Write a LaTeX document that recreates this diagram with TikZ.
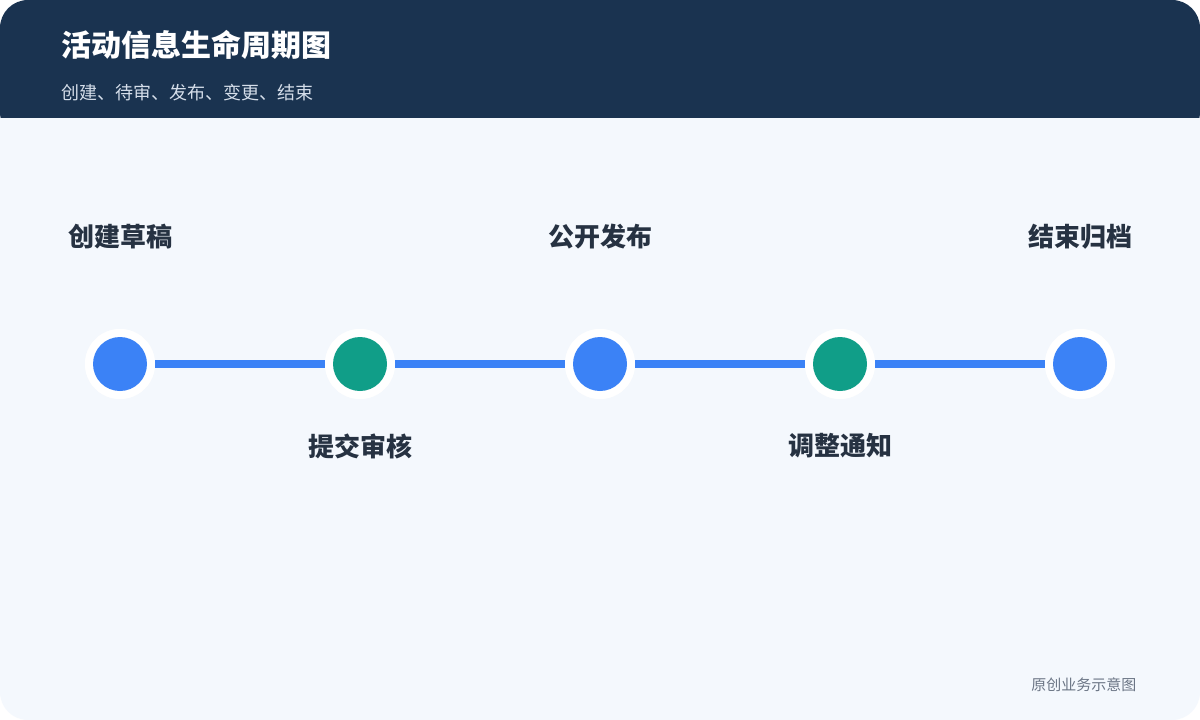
\documentclass[tikz,border=0pt]{standalone}
\usepackage{fontspec}
\setmainfont{Noto Sans CJK SC}
\newfontfamily\cjkb{Noto Sans CJK SC}[BoldFont={Noto Sans CJK SC Bold}]
\definecolor{navy}{HTML}{1A3350}
\definecolor{bodybg}{HTML}{F4F8FD}
\definecolor{blu}{HTML}{3B82F6}
\definecolor{grn}{HTML}{109E88}
\definecolor{txt}{HTML}{263242}
\definecolor{sub}{HTML}{D5DEEA}
\definecolor{foot}{HTML}{6B7585}
\begin{document}
\begin{tikzpicture}[x=1pt,y=-1pt,
  ring/.style={circle,fill=white,minimum size=70pt,inner sep=0pt},
  dotb/.style={circle,fill=blu,minimum size=54pt,inner sep=0pt},
  dotg/.style={circle,fill=grn,minimum size=54pt,inner sep=0pt},
  lab/.style={font=\fontsize{26}{30}\selectfont\bfseries,text=txt},
  conn/.style={blu,line width=8pt}]
\useasboundingbox (0,0) rectangle (1200,720);
\fill[white] (0,0) rectangle (1200,720);
\fill[bodybg,rounded corners=28pt] (0,0) rectangle (1200,720);
\fill[navy,rounded corners=28pt] (0,0) rectangle (1200,140);
\fill[bodybg] (0,118) rectangle (1200,160);
\node[anchor=west,text=white,font=\fontsize{30}{34}\selectfont\bfseries] (title) at (58,45) {活动信息生命周期图};
\node[anchor=west,text=sub,font=\fontsize{18}{22}\selectfont] (subt) at (58,93) {创建、待审、发布、变更、结束};
\foreach \i/\x in {1/120,2/360,3/600,4/840,5/1080}{\node[ring] (r\i) at (\x,364) {};}
\draw[conn] (r1) -- (r2); \draw[conn] (r2) -- (r3); \draw[conn] (r3) -- (r4); \draw[conn] (r4) -- (r5);
\foreach \i in {1,...,5}{\node[ring] at (r\i) {};}
\node[dotb] (d1) at (r1) {};
\node[dotg] (d2) at (r2) {};
\node[dotb] (d3) at (r3) {};
\node[dotg] (d4) at (r4) {};
\node[dotb] (d5) at (r5) {};
\node[lab] (l1) at (120,237) {创建草稿};
\node[lab] (l2) at (360,446) {提交审核};
\node[lab] (l3) at (600,237) {公开发布};
\node[lab] (l4) at (840,446) {调整通知};
\node[lab] (l5) at (1080,237) {结束归档};
\node[anchor=east,text=foot,font=\fontsize{15}{18}\selectfont] (ft) at (1140,685) {原创业务示意图};
\end{tikzpicture}
\end{document}
